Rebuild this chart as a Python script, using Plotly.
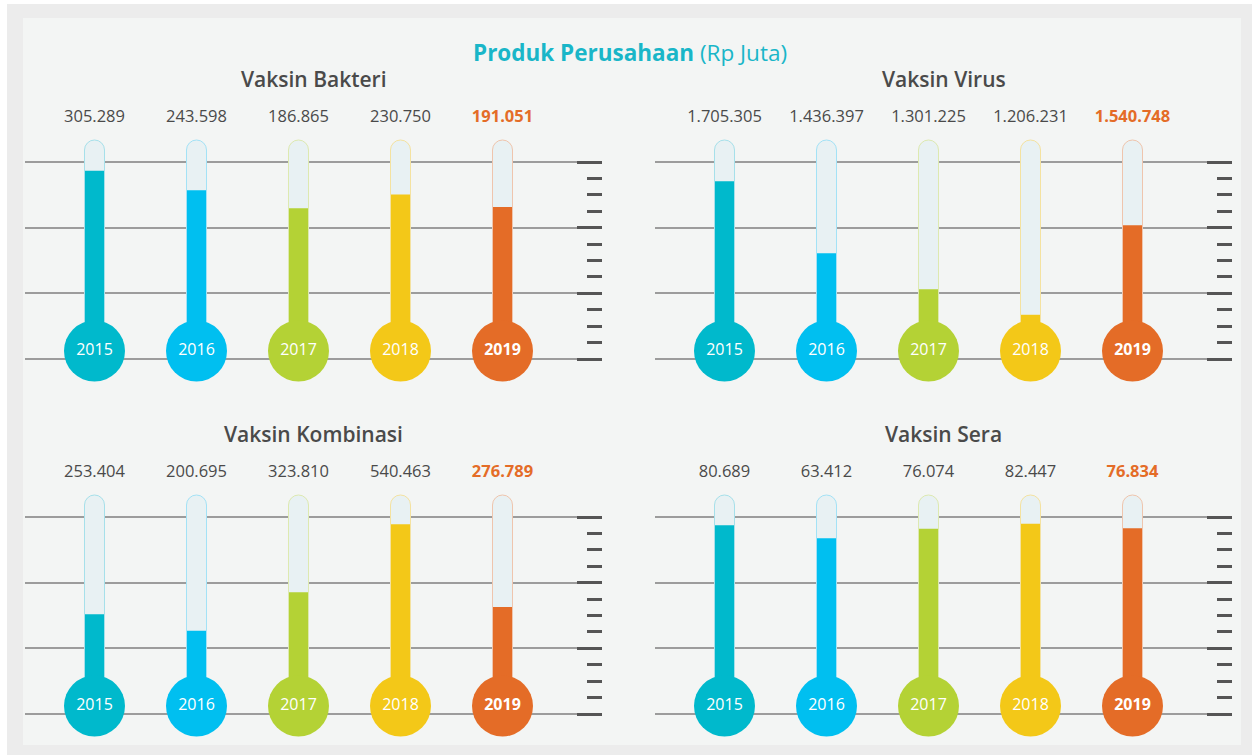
import plotly.graph_objects as go

# Produk Perusahaan (Rp Juta), 2015-2019
years = ["2015", "2016", "2017", "2018", "2019"]
bakteri = [305289, 243598, 186865, 230750, 191051]
virus = [1705305, 1436397, 1301225, 1206231, 1540748]
kombinasi = [253404, 200695, 323810, 540463, 276789]
sera = [80689, 63412, 76074, 82447, 76834]

panel_titles = ["Vaksin Bakteri", "Vaksin Virus", "Vaksin Kombinasi", "Vaksin Sera"]
panel_values = [bakteri, virus, kombinasi, sera]
# value shown at the bottom and top gridline of each thermometer scale
panel_scales = [(-288000, 333000), (1041000, 1777000), (-65000, 564000), (-168000, 91500)]

year_colors = ["#00b9cc", "#00bff0", "#b4d235", "#f3c818", "#e46c27"]
tube_edges = ["#a6e0ea", "#a3e2f6", "#dde9b0", "#f4e2a0", "#efc5ad"]
TUBE_BG = "#e8f1f3"
TEXT = "#4a4a4a"
ACCENT = "#e46c27"
FONT = "'Open Sans', Lato, sans-serif"

W, H = 1252, 755

# layout geometry (pixels)
PANEL_W = 577
FIRST_CX = 69.5
STEP = 102
GRID_TOP, GRID_BOT = 162, 359
TUBE_TOP = 140
BULB_CY = 351
DOM_TOP, DOM_BOT = 100, 392
LABEL_Y = 118
TITLE_Y = 79
panel_origin = [(25, 0), (655, 0), (25, 355), (655, 355)]


def fmt(v):
    return f"{v:,}".replace(",", ".")


fig = go.Figure()
annotations = []
layout_axes = {}

for k, (title, vals, (lo, hi), (px0, dy)) in enumerate(
        zip(panel_titles, panel_values, panel_scales, panel_origin)):
    n = k + 1
    xa = "x" if n == 1 else f"x{n}"
    ya = "y" if n == 1 else f"y{n}"
    upp = (hi - lo) / (GRID_BOT - GRID_TOP)  # value units per pixel

    def val_at(py):
        return lo + (GRID_BOT - py) * upp

    rng_lo = val_at(DOM_BOT)
    rng_hi = val_at(DOM_TOP)
    tube_top = val_at(TUBE_TOP)
    bulb_y = val_at(BULB_CY)
    label_y = val_at(LABEL_Y)

    xs = list(range(len(years)))

    # empty tube
    fig.add_trace(go.Bar(
        x=xs, base=[lo] * 5, y=[tube_top - lo] * 5, width=20 / STEP,
        marker=dict(color=TUBE_BG, line=dict(color=tube_edges, width=1), cornerradius=10),
        xaxis=xa, yaxis=ya, showlegend=False, hoverinfo="skip"))
    # mercury level
    fig.add_trace(go.Bar(
        x=xs, base=[lo] * 5, y=[v - lo for v in vals], width=19 / STEP,
        marker=dict(color=year_colors, line=dict(width=0)),
        xaxis=xa, yaxis=ya, showlegend=False, hoverinfo="skip"))
    # bulbs with year
    fig.add_trace(go.Scatter(
        x=xs, y=[bulb_y] * 5, mode="markers+text",
        marker=dict(size=61, color=year_colors, line=dict(width=0)),
        text=[f"<b>{y}</b>" if i == 4 else y for i, y in enumerate(years)],
        textposition="middle center",
        textfont=dict(family=FONT, size=16, color="white"),
        xaxis=xa, yaxis=ya, showlegend=False, hoverinfo="skip", cliponaxis=False))
    # values above tubes
    fig.add_trace(go.Scatter(
        x=xs, y=[label_y] * 5, mode="text",
        text=[f"<b>{fmt(v)}</b>" if i == 4 else fmt(v) for i, v in enumerate(vals)],
        textposition="middle center",
        textfont=dict(family=FONT, size=16.5, color=[TEXT] * 4 + [ACCENT]),
        xaxis=xa, yaxis=ya, showlegend=False, hoverinfo="skip", cliponaxis=False))

    major = [lo + j * (hi - lo) / 3 for j in range(4)]
    minor = [lo + j * (hi - lo) / 12 for j in range(13) if j % 4]

    layout_axes["xaxis" if n == 1 else f"xaxis{n}"] = dict(
        domain=[px0 / W, (px0 + PANEL_W) / W],
        range=[-FIRST_CX / STEP, (PANEL_W - FIRST_CX) / STEP],
        anchor=ya, visible=False, fixedrange=True)
    layout_axes["yaxis" if n == 1 else f"yaxis{n}"] = dict(
        domain=[1 - (DOM_BOT + dy) / H, 1 - (DOM_TOP + dy) / H],
        range=[rng_lo, rng_hi], anchor=xa, side="right",
        tickmode="array", tickvals=major, showticklabels=False,
        ticks="inside", ticklen=25, tickwidth=3, tickcolor="#555555",
        showgrid=True, gridcolor="#9c9c9c", gridwidth=2,
        minor=dict(tickmode="array", tickvals=minor, ticks="inside", ticklen=15,
                   tickwidth=3, tickcolor="#555555", showgrid=False),
        zeroline=False, showline=False, fixedrange=True)

    annotations.append(dict(
        x=(px0 + PANEL_W / 2) / W, y=1 - (TITLE_Y + dy) / H, xref="paper", yref="paper",
        text=title, showarrow=False, xanchor="center", yanchor="middle",
        font=dict(family=FONT, size=21, weight=600, color=TEXT)))

annotations.append(dict(
    x=629.5 / W, y=1 - 52 / H, xref="paper", yref="paper",
    text="<b>Produk Perusahaan</b> (Rp Juta)", showarrow=False,
    xanchor="center", yanchor="middle",
    font=dict(family=FONT, size=22.5, color="#19b6c8")))

shapes = [
    dict(type="rect", xref="paper", yref="paper", layer="below",
         x0=7 / W, x1=1, y0=0, y1=1 - 4 / H, fillcolor="#ececec", line=dict(width=0)),
    dict(type="rect", xref="paper", yref="paper", layer="below",
         x0=23 / W, x1=1241 / W, y0=1 - 745 / H, y1=1 - 18 / H,
         fillcolor="#f3f5f4", line=dict(width=0)),
]

fig.update_layout(
    width=W, height=H, margin=dict(l=0, r=0, t=0, b=0),
    paper_bgcolor="white", plot_bgcolor="rgba(0,0,0,0)",
    barmode="overlay", hovermode=False, showlegend=False,
    annotations=annotations, shapes=shapes, **layout_axes)

fig.write_html("out.html", config={"displayModeBar": False})
